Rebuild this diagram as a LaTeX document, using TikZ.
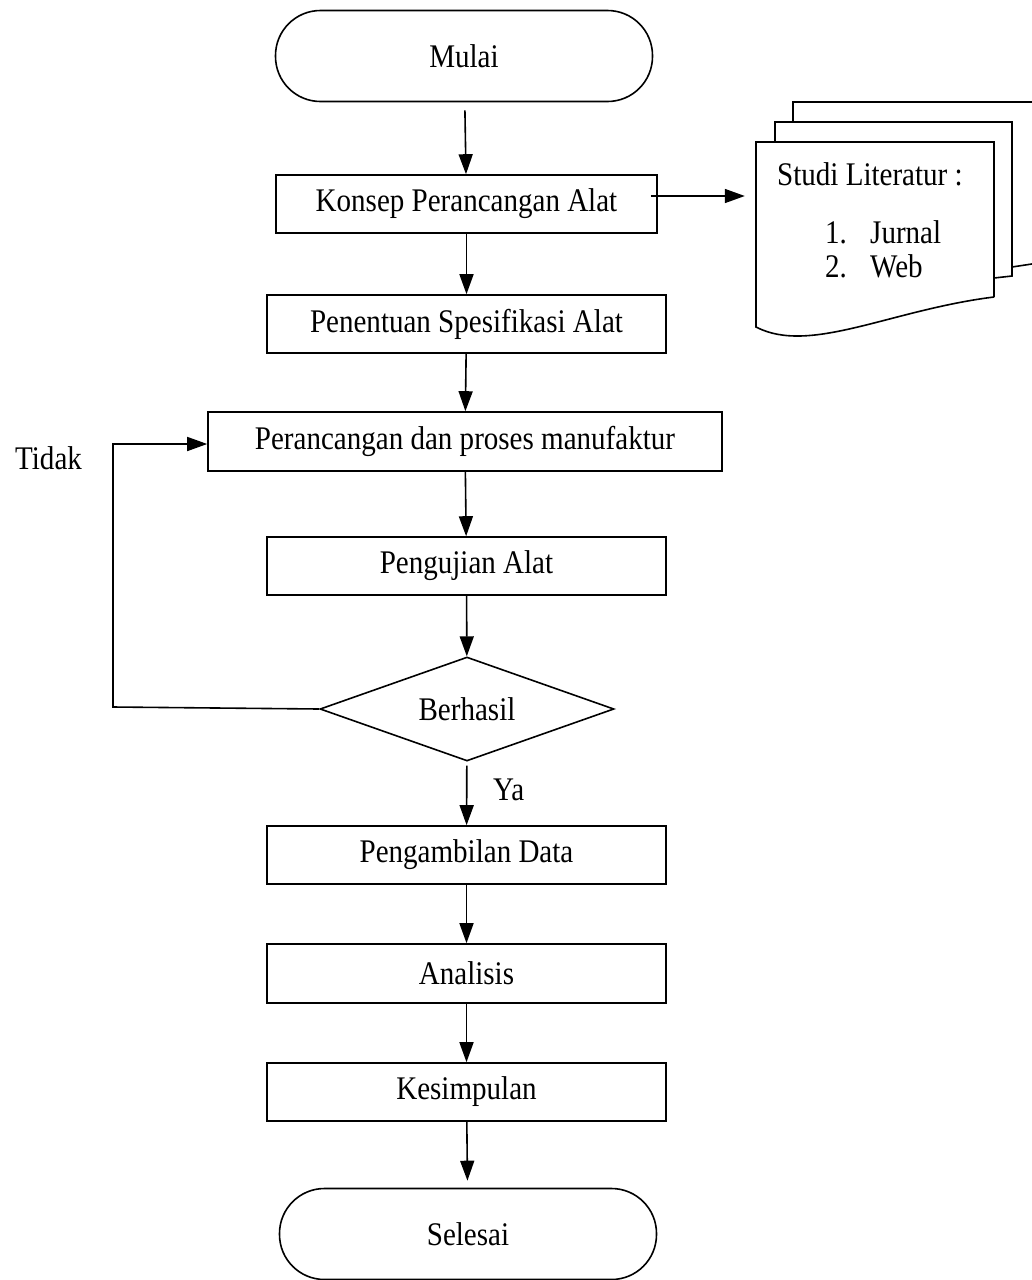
\documentclass[tikz,border=0pt]{standalone}
\usepackage{fontspec}
\setmainfont{Liberation Serif}[FakeStretch=0.88]
\usetikzlibrary{arrows.meta,shapes.geometric,calc}
\begin{document}
\begin{tikzpicture}[x=1pt,y=-1pt,
  every node/.style={font=\fontsize{33}{38}\selectfont},
  ln/.style={line width=1.6pt},
  box/.style={draw, line width=1.6pt, minimum width=399pt, minimum height=58pt, inner sep=0pt},
  wbox/.style={box, minimum width=514pt, minimum height=59pt},
  term/.style={draw, line width=1.6pt, rounded corners=45pt, minimum width=377pt, minimum height=91pt, inner sep=0pt},
  dec/.style={draw, diamond, line width=1.6pt, aspect=2.83, minimum width=294pt, minimum height=104pt, inner sep=0pt},
  arr/.style={line width=1.6pt, -{Triangle[length=20pt,width=14pt]}},
  lbl/.style={inner sep=0pt, anchor=base west}]
\useasboundingbox (0,0) rectangle (1032,1280);

% flow nodes
\node[term] (mulai) at (464,56) {Mulai};
\node[box, minimum width=381pt] (konsep) at (466.5,204) {Konsep Perancangan Alat};
\node[box] (penentuan) at (466.5,324) {Penentuan Spesifikasi Alat};
\node[wbox] (perancangan) at (465,441.5) {Perancangan dan proses manufaktur};
\node[box] (pengujian) at (466.5,566) {Pengujian Alat};
\node[dec] (berhasil) at (467,709) {Berhasil};
\node[box] (pengambilan) at (466.5,855) {Pengambilan Data};
\node[box, minimum height=59pt] (analisis) at (466.5,973.5) {Analisis};
\node[box] (kesimpulan) at (466.5,1092) {Kesimpulan};
\node[term] (selesai) at (468,1234) {Selesai};

% labels
\node[lbl] (tidak) at (15,469) {Tidak};
\node[lbl] (ya) at (493,800) {Ya};

% multi-document
\begin{scope}
\clip (0,0) rectangle (1032,1280);
\draw[ln] (793,122) -- (793,102) -- (1045,102) -- (1045,262) -- (1012,267);
\end{scope}
\draw[ln] (775,142) -- (775,122) -- (1012,122) -- (1012,276) -- (994,278);
\node[inner sep=0pt, minimum width=238pt, minimum height=185pt] (doc) at (875,234.5) {};
\draw[ln] (994,297) -- (994,142) -- (756,142) -- (756,327)
  .. controls (810,355) and (890,310) .. (994,297);
\node[lbl] (studi) at (777,185) {Studi Literatur :};
\node[lbl] (n1) at (825,243) {1.};
\node[lbl] (jurnal) at (870,243) {Jurnal};
\node[lbl] (n2) at (825,277) {2.};
\node[lbl] (web) at (870,277) {Web};

% connectors
\draw[arr, shorten <=8pt] (mulai) -- (konsep);
\draw[arr] (konsep) -- (penentuan);
\draw[arr] (penentuan) -- (perancangan);
\draw[arr] (perancangan) -- (pengujian);
\draw[arr] (pengujian) -- (berhasil);
\draw[arr, shorten <=4pt] (berhasil) -- (pengambilan);
\draw[arr] (pengambilan) -- (analisis);
\draw[arr] (analisis) -- (kesimpulan);
\draw[arr, shorten >=7pt] (kesimpulan) -- (selesai);

\coordinate (ka) at ($(konsep.east)+(-7,-8)$);
\draw[arr, shorten >=11pt] (ka) -- (ka -| doc.west);

\coordinate (lp) at (113,707);
\draw[arr] (berhasil.west) -- (lp) |- ([yshift=-2.5pt]perancangan.west);
\end{tikzpicture}
\end{document}
